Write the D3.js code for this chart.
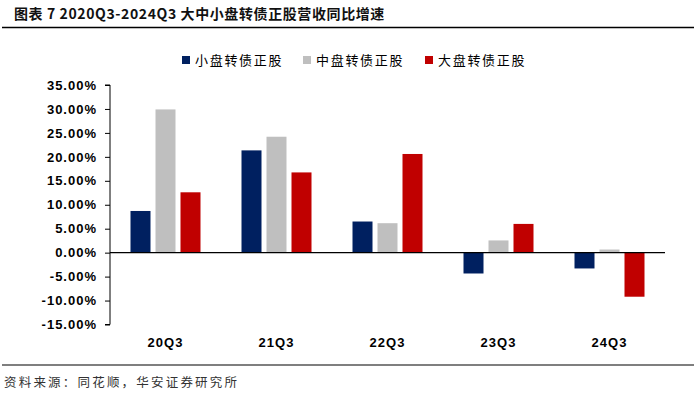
<!DOCTYPE html>
<html><head><meta charset="utf-8">
<script src="https://cdn.jsdelivr.net/npm/d3@7"></script>
<style>body{margin:0;background:#fff}svg{display:block}</style>
</head><body>
<svg id="c" width="696" height="395"></svg>
<script>
const categories = ["20Q3","21Q3","22Q3","23Q3","24Q3"];
const seriesNames = ["小盘转债正股","中盘转债正股","大盘转债正股"];
const smallCap = [8.7, 21.35, 6.5, -4.35, -3.3];
const midCap = [29.9, 24.2, 6.15, 2.55, 0.65];
const largeCap = [12.6, 16.75, 20.6, 6.0, -9.2];
const yTicks = [35,30,25,20,15,10,5,0,-5,-10,-15];
const colors = ["#002060","#BFBFBF","#C00000"];
const series = [smallCap, midCap, largeCap];

const svg = d3.select("#c");
const cjk = "'Noto Sans CJK SC', sans-serif";
const latin = "Arial, 'Liberation Sans', sans-serif";

// title
svg.append("text").attr("x",14).attr("y",19).attr("font-family",cjk).attr("font-weight","bold")
  .attr("font-size",14).attr("letter-spacing",0.6).attr("fill","#111").text("图表 7 2020Q3-2024Q3 大中小盘转债正股营收同比增速");
svg.append("line").attr("x1",2).attr("x2",694).attr("y1",27.5).attr("y2",27.5).attr("stroke","#000").attr("stroke-width",1.5);

const y = d3.scaleLinear().domain([-15,35]).range([324.5,85]);
const x = d3.scaleBand().domain(categories).range([110,665]);

// y axis
const yAxis = d3.axisLeft(y).tickValues(yTicks).tickSize(5).tickFormat(d=>d.toFixed(2)+"%");
const ga = svg.append("g").attr("transform","translate(110,0)").call(yAxis);
ga.select(".domain").attr("stroke","#000").attr("d","M-5,"+y(35)+"H0V"+y(-15)+"H-5");
ga.selectAll(".tick line").attr("stroke","#000");
ga.selectAll(".tick text").attr("x",-13).attr("font-family",latin).attr("font-weight","bold").attr("font-size",13).attr("letter-spacing",1).attr("fill","#000");

// bars
const bw = 20, gap = 5;
series.forEach((vals,si)=>{
  svg.append("g").selectAll("rect").data(vals).join("rect")
    .attr("x",(d,i)=>x(categories[i]) + x.bandwidth()/2 - (3*bw+2*gap)/2 + si*(bw+gap))
    .attr("width",bw)
    .attr("y",d=>Math.min(y(d),y(0)))
    .attr("height",d=>Math.abs(y(d)-y(0)))
    .attr("fill",colors[si]);
});

// zero line
svg.append("line").attr("x1",110).attr("x2",665).attr("y1",y(0)).attr("y2",y(0)).attr("stroke","#000").attr("stroke-width",1.3);

// x labels
svg.append("g").selectAll("text").data(categories).join("text")
  .attr("x",d=>x(d)+x.bandwidth()/2).attr("y",347).attr("text-anchor","middle")
  .attr("font-family",latin).attr("font-weight","bold").attr("font-size",13).attr("letter-spacing",1).attr("fill","#000").text(d=>d);

// legend
const legX = [182,303,425];
seriesNames.forEach((n,i)=>{
  svg.append("rect").attr("x",legX[i]).attr("y",56).attr("width",8).attr("height",8).attr("fill",colors[i]);
  svg.append("text").attr("x",legX[i]+13).attr("y",65).attr("font-family",cjk).attr("font-size",13).attr("letter-spacing",1.7).attr("fill","#000").text(n);
});

// bottom line & source
svg.append("line").attr("x1",2).attr("x2",694).attr("y1",365).attr("y2",365).attr("stroke","#000").attr("stroke-width",1.2);
svg.append("text").attr("x",4).attr("y",387).attr("font-family",cjk).attr("font-size",12.5).attr("letter-spacing",2.2).attr("fill","#333").text("资料来源：同花顺，华安证券研究所");
</script>
</body></html>
